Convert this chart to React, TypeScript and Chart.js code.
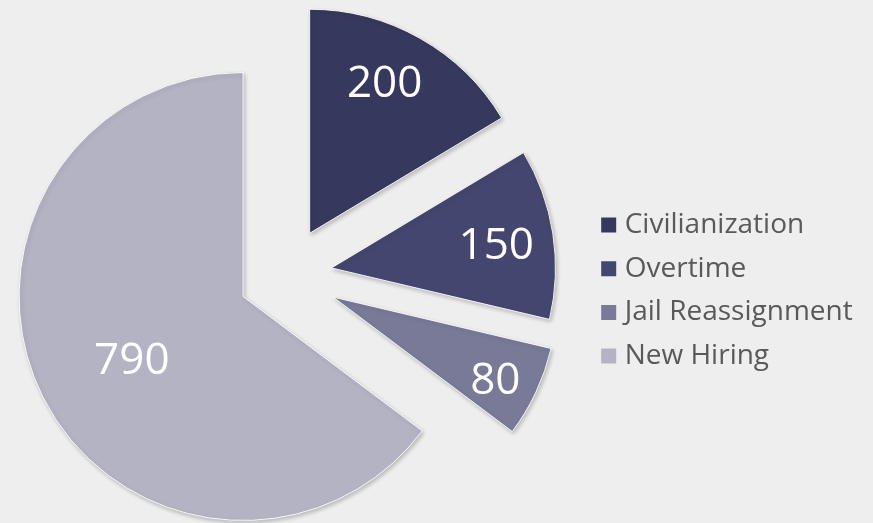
import React, { useEffect, useRef } from "react";
import { Chart, registerables } from "chart.js";

Chart.register(...registerables);

// ---- data ----
const categories = ["Civilianization", "Overtime", "Jail Reassignment", "New Hiring"];
const values = [200, 150, 80, 790];

// ---- styles ----
const colors = ["#37385d", "#44466f", "#787a98", "#b3b3c3"];
const explodePx = [48, 46, 52, 48]; // explosion distance per slice
const labelAngleFrac = [0.446, 0.508, 0.564, 0.49];
const labelRadiusFrac = [0.755, 0.744, 0.81, 0.567];

const W = 873;
const H = 523;
const SHIFT = 40; // canvas extends beyond the page on both sides
const CW = W + 2 * SHIFT;
const RADIUS = 224;
const CENTER_X = 286; // page coords of pie centre
const CENTER_Y = 275;
const FONT = '"Open Sans", "Noto Sans", sans-serif';
const LABEL_SIZE = 44;
const LEGEND_SIZE = 28;
const LEGEND_PAD = 15.7;
const LEGEND_BOX_W = 4;
const LEGEND_TEXT_X = 624.7; // page x where legend text starts
const LEGEND_FIRST_Y = 211; // page y of first legend row top

// explode slices by moving each arc's centre along its mid angle
const explodePlugin = {
  id: "explode",
  afterDatasetUpdate(chart: any, args: any) {
    args.meta.data.forEach((arc: any, i: number) => {
      const mid = (arc.startAngle + arc.endAngle) / 2;
      arc.x += Math.cos(mid) * (explodePx[i] || 0);
      arc.y += Math.sin(mid) * (explodePx[i] || 0);
    });
  },
};

const shadowPlugin = {
  id: "sliceShadow",
  beforeDatasetsDraw(chart: any) {
    const ctx = chart.ctx;
    ctx.save();
    ctx.shadowColor = "rgba(0,0,0,0.22)";
    ctx.shadowBlur = 4;
    ctx.shadowOffsetX = 1.5;
    ctx.shadowOffsetY = 2;
  },
  afterDatasetsDraw(chart: any) {
    chart.ctx.restore();
  },
};

const labelPlugin = {
  id: "sliceLabels",
  afterDraw(chart: any) {
    const ctx = chart.ctx;
    const meta = chart.getDatasetMeta(0);
    ctx.save();
    ctx.fillStyle = "#ffffff";
    ctx.font = `${LABEL_SIZE}px ${FONT}`;
    ctx.textAlign = "center";
    ctx.textBaseline = "alphabetic";
    meta.data.forEach((arc: any, i: number) => {
      const { x, y, startAngle, endAngle, outerRadius } = arc.getProps(
        ["x", "y", "startAngle", "endAngle", "outerRadius"],
        true
      );
      const a = startAngle + (endAngle - startAngle) * labelAngleFrac[i];
      const r = outerRadius * labelRadiusFrac[i];
      const lx = x + Math.cos(a) * r;
      const ly = y + Math.sin(a) * r;
      ctx.fillText(String(values[i]), lx, ly + LABEL_SIZE * 0.357);
    });
    ctx.restore();
  },
};

export default function App() {
  const canvasRef = useRef<HTMLCanvasElement | null>(null);

  useEffect(() => {
    const canvas = canvasRef.current;
    if (!canvas) return;

    // measure legend text to lay out the legend box
    const m = document.createElement("canvas").getContext("2d") as CanvasRenderingContext2D;
    m.font = `${LEGEND_SIZE}px ${FONT}`;
    const tw = Math.max(...categories.map((c) => m.measureText(c).width));
    const legendWidth = LEGEND_PAD + LEGEND_BOX_W + LEGEND_SIZE / 2 + tw + 10;
    const legendLeft = LEGEND_TEXT_X - LEGEND_SIZE / 2 - LEGEND_BOX_W - LEGEND_PAD + SHIFT;
    const padLeft = 2 * (CENTER_X + SHIFT) - legendLeft;
    const padRight = CW - legendLeft - legendWidth;
    const colHeight = categories.length * (LEGEND_SIZE + LEGEND_PAD);
    const padBottom = H - colHeight - LEGEND_FIRST_Y;
    const padTop = 2 * CENTER_Y - H + padBottom;

    const chart = new Chart(canvas, {
      type: "pie",
      data: {
        labels: categories,
        datasets: [
          {
            data: values,
            backgroundColor: colors,
            borderColor: "rgba(255,255,255,0.9)",
            borderWidth: 1,
            hoverOffset: 0,
          } as any,
        ],
      },
      options: {
        responsive: false,
        animation: false,
        events: [],
        radius: RADIUS,
        layout: {
          padding: { left: padLeft, right: padRight, top: padTop, bottom: padBottom },
        },
        plugins: {
          tooltip: { enabled: false },
          legend: {
            position: "right",
            align: "end",
            labels: {
              usePointStyle: true,
              pointStyle: "rect",
              boxWidth: LEGEND_BOX_W,
              boxHeight: 15,
              padding: LEGEND_PAD,
              color: "#595959",
              font: { family: FONT, size: LEGEND_SIZE },
              generateLabels: (c: any) =>
                (Chart as any).overrides.doughnut.plugins.legend.labels
                  .generateLabels(c)
                  .map((l: any) => ({ ...l, lineWidth: 0, pointStyle: "rect" })),
            },
          },
        },
      } as any,
      plugins: [explodePlugin, shadowPlugin, labelPlugin],
    });
    return () => chart.destroy();
  }, []);

  return (
    <div
      style={{
        position: "fixed",
        left: 0,
        top: 0,
        width: W,
        height: H,
        background: "#eeeeee",
        overflow: "hidden",
      }}
    >
      <canvas
        ref={canvasRef}
        width={CW}
        height={H}
        style={{ display: "block", position: "absolute", left: -SHIFT, top: 0 }}
      />
    </div>
  );
}
